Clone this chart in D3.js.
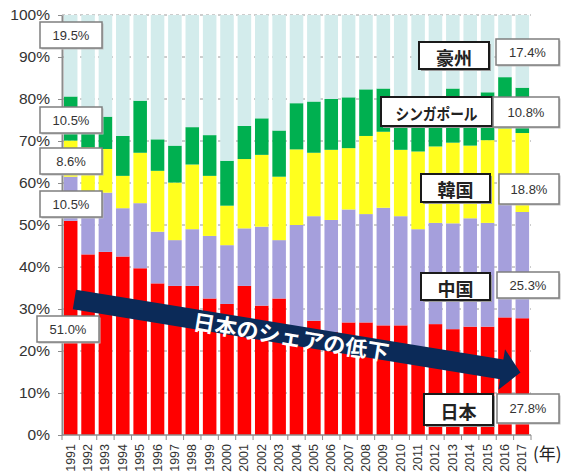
<!DOCTYPE html>
<html>
<head>
<meta charset="utf-8">
<script src="https://cdn.jsdelivr.net/npm/d3@7"></script>
<style>
body { margin: 0; background: #fff; }
svg { display: block; font-family: "Liberation Sans", Arial, sans-serif; }
</style>
</head>
<body>
<svg width="566" height="473"></svg>
<script>
// shares by year (%)
const years = [1991,1992,1993,1994,1995,1996,1997,1998,1999,2000,2001,2002,2003,2004,2005,2006,2007,2008,2009,2010,2011,2012,2013,2014,2015,2016,2017];
const japan     = [51.0,43.0,43.6,42.5,39.7,36.1,35.5,35.5,32.5,31.2,35.5,30.8,32.5,25.5,27.2,24.5,26.8,26.8,26.1,26.1,21.0,26.4,25.2,25.8,25.8,28.0,27.8];
const china     = [10.5,12.5,14.1,11.5,15.5,12.3,10.9,13.5,14.9,14.0,13.7,18.8,13.9,24.5,24.9,26.7,26.9,25.8,28.0,26.0,28.0,24.1,25.2,25.8,24.7,26.8,25.3];
const korea     = [ 8.6,13.0,10.4, 7.7,12.0,14.5,13.7,15.4,14.3, 9.4,16.5,17.1,15.1,18.0,15.1,16.7,14.6,18.6,18.1,15.8,18.5,18.2,19.2,17.3,19.7,18.2,18.8];
const singapore = [10.5, 5.5, 7.7, 9.5,12.4, 7.5, 8.8, 8.9, 9.7,10.7, 7.9, 8.7,11.0,11.0,12.2,12.1,12.1,11.1,10.3,10.1, 9.5, 9.3,12.9,10.1,11.4,12.2,10.8];
const australia = [19.5,26.0,24.2,28.8,20.4,29.6,31.1,26.7,28.6,34.7,26.4,24.6,27.5,21.0,20.6,20.0,19.6,17.7,17.5,22.0,23.0,22.0,17.5,21.0,18.4,14.8,17.4];

const seriesKeys = ["japan", "china", "korea", "singapore", "australia"];
const seriesColors = ["#ff0000", "#a59fdc", "#ffff1e", "#00b050", "#d3ecec"];
const yTicks = [0,10,20,30,40,50,60,70,80,90,100];

// labels in the boxes
const leftShares = ["19.5%", "10.5%", "8.6%", "10.5%", "51.0%"];
const nameLabels = ["豪州", "シンガポール", "韓国", "中国", "日本"];
const nameShares = ["17.4%", "10.8%", "18.8%", "25.3%", "27.8%"];
const arrowText = "日本のシェアの低下";
const yearUnit = "(年)";

const cjk = '"Noto Sans CJK JP", sans-serif';
const svg = d3.select('svg');

const x = d3.scaleBand().domain(years).range([62, 531]).paddingInner(0.22).paddingOuter(0.11);
const y = d3.scaleLinear().domain([0, 100]).range([435, 15]);

// dotted grid behind the bars
svg.append('g').selectAll('line')
  .data(yTicks.filter(d => d > 0))
  .join('line')
  .attr('x1', 62).attr('x2', 531)
  .attr('y1', d => y(d)).attr('y2', d => y(d))
  .attr('stroke', '#9a9a9a')
  .attr('stroke-dasharray', '3,3');

const table = years.map((yr, i) => ({
  year: yr, japan: japan[i], china: china[i], korea: korea[i],
  singapore: singapore[i], australia: australia[i]
}));
const stacked = d3.stack().keys(seriesKeys)(table);

svg.append('g').selectAll('g')
  .data(stacked)
  .join('g')
  .attr('fill', (d, i) => seriesColors[i])
  .selectAll('rect')
  .data(d => d)
  .join('rect')
  .attr('x', d => x(d.data.year))
  .attr('width', x.bandwidth())
  .attr('y', d => y(Math.min(d[1], 100)))
  .attr('height', d => y(d[0]) - y(Math.min(d[1], 100)));

// y axis
const yAxis = svg.append('g')
  .attr('transform', 'translate(62,0)')
  .call(d3.axisLeft(y).tickValues(yTicks).tickFormat(d => d + '%').tickSize(4).tickSizeOuter(0).tickPadding(8));
yAxis.select('.domain').attr('stroke', '#8c8c8c').attr('stroke-width', 2);
yAxis.selectAll('.tick line').attr('stroke', '#8c8c8c');
yAxis.selectAll('.tick text')
  .attr('font-size', 15.5)
  .attr('font-family', '"Liberation Sans", Arial, sans-serif')
  .attr('fill', '#333');

// x axis: line, ticks between the bars, rotated year labels
const step = x.step();
const bounds = years.map(yr => x(yr) - step * x.paddingInner() / 2).concat([531]);
const xAxis = svg.append('g');
xAxis.append('line')
  .attr('x1', 62).attr('x2', 531).attr('y1', 435).attr('y2', 435)
  .attr('stroke', '#8c8c8c').attr('stroke-width', 1.5);
xAxis.selectAll('.xt')
  .data(bounds)
  .join('line')
  .attr('class', 'xt')
  .attr('x1', d => d).attr('x2', d => d)
  .attr('y1', 435).attr('y2', 440)
  .attr('stroke', '#8c8c8c');
xAxis.selectAll('text')
  .data(years)
  .join('text')
  .attr('transform', d => `translate(${x(d) + x.bandwidth() / 2},444) rotate(-90)`)
  .attr('text-anchor', 'end')
  .attr('dominant-baseline', 'central')
  .attr('font-size', 12.5)
  .attr('fill', '#333')
  .text(d => d);

svg.append('text')
  .attr('x', 533).attr('y', 452)
  .attr('dominant-baseline', 'central')
  .attr('font-family', cjk)
  .attr('font-size', 17)
  .attr('fill', '#222')
  .text(yearUnit);

// arrow
const arrow = svg.append('g').attr('transform', 'translate(74.4,299.5) rotate(9.3)');
arrow.append('path')
  .attr('d', 'M0,-10 L433,-10 L433,-20.5 L452,0 L433,20.5 L433,10 L0,10 Z')
  .attr('fill', '#0b2a58');
arrow.append('text')
  .attr('x', 220).attr('y', 0.5)
  .attr('text-anchor', 'middle')
  .attr('dominant-baseline', 'central')
  .attr('font-family', cjk)
  .attr('font-weight', 'bold')
  .attr('font-size', 22)
  .attr('fill', '#fff')
  .text(arrowText);

// boxes
function shareBox(x0, y0, w, h, txt) {
  const g = svg.append('g');
  g.append('rect').attr('x', x0 + 1.5).attr('y', y0 + 1.5).attr('width', w).attr('height', h).attr('fill', '#bdbdbd');
  g.append('rect').attr('x', x0).attr('y', y0).attr('width', w).attr('height', h)
    .attr('fill', '#fff').attr('stroke', '#7f7f7f').attr('stroke-width', 1.5);
  g.append('text').attr('x', x0 + w / 2).attr('y', y0 + h / 2)
    .attr('text-anchor', 'middle').attr('dominant-baseline', 'central')
    .attr('font-size', 13).attr('fill', '#333').text(txt);
}

function nameBox(x0, y0, w, h, txt, size, len) {
  const g = svg.append('g');
  g.append('rect').attr('x', x0 + 2).attr('y', y0 + 2).attr('width', w).attr('height', h).attr('fill', '#9a9a9a');
  g.append('rect').attr('x', x0).attr('y', y0).attr('width', w).attr('height', h)
    .attr('fill', '#fff').attr('stroke', '#1a1a1a').attr('stroke-width', 2);
  const t = g.append('text').attr('x', x0 + w / 2).attr('y', y0 + h / 2 + 1)
    .attr('text-anchor', 'middle').attr('dominant-baseline', 'central')
    .attr('font-family', cjk).attr('font-weight', 'bold')
    .attr('font-size', size).attr('fill', '#222').text(txt);
  if (len) t.attr('textLength', len).attr('lengthAdjust', 'spacingAndGlyphs');
}

const leftBoxY = [22, 107, 148, 191, 316];
leftShares.forEach((s, i) => shareBox(i === 4 ? 37 : 40, leftBoxY[i], 62, 26, s));

const nameBoxes = [
  [419, 42, 70, 27, 18, 0],
  [381, 97, 111, 29, 16, 82],
  [421, 174, 69, 28, 18, 0],
  [421, 273, 69, 27, 18, 0],
  [424, 394, 69, 31, 18, 0]
];
const nameShareBoxes = [
  [496, 39, 63, 26],
  [493, 97, 66, 30],
  [499, 174, 60, 30],
  [497, 272, 62, 26],
  [497, 394, 62, 29]
];
nameLabels.forEach((n, i) => {
  const b = nameBoxes[i];
  nameBox(b[0], b[1], b[2], b[3], n, b[4], b[5]);
  const s = nameShareBoxes[i];
  shareBox(s[0], s[1], s[2], s[3], nameShares[i]);
});
</script>
</body>
</html>
